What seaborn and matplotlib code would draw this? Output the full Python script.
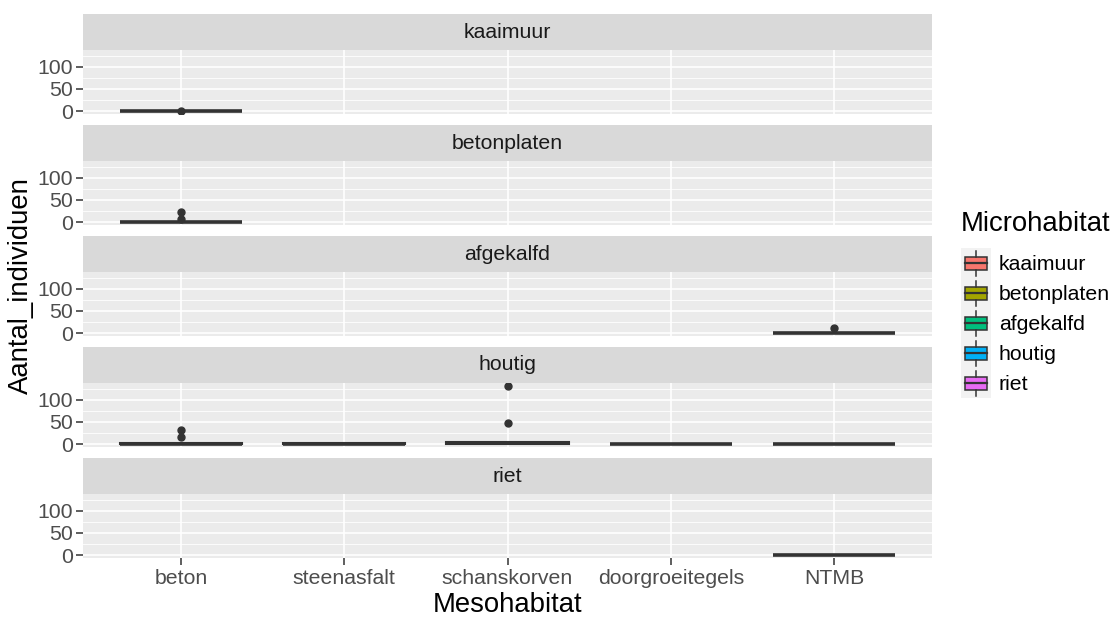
import matplotlib
matplotlib.use("Agg")
import matplotlib.pyplot as plt
import seaborn as sns
import pandas as pd
import numpy as np
from matplotlib.patches import Rectangle, Patch
from matplotlib.lines import Line2D
from matplotlib.legend_handler import HandlerBase

# ---------------- data ----------------
microhabitats = ["kaaimuur", "betonplaten", "afgekalfd", "houtig", "riet"]
mesohabitats = ["beton", "steenasfalt", "schanskorven", "doorgroeitegels", "NTMB"]
micro_colors = ["#F8766D", "#A3A500", "#00BF7D", "#00B0F6", "#E76BF3"]

kaaimuur_beton = [0, 0, 0, 0, 0, 0, 0, 0, 0, 1]
betonplaten_beton = [0, 0, 0, 0, 0, 0, 0, 0, 0, 0, 7, 23]
afgekalfd_NTMB = [0, 0, 0, 0, 0, 0, 0, 0, 12]
houtig_beton = [0, 0, 0, 0, 0, 0, 0, 0, 1, 2, 3, 4, 5, 17, 31]
houtig_steenasfalt = [0, 0, 0, 0, 1, 1, 2, 2, 3]
houtig_schanskorven = [0, 0, 0, 0, 0, 1, 2, 3, 4, 5, 6, 7, 47, 131]
houtig_doorgroeitegels = [0, 0, 0, 0, 1, 1, 2, 2]
houtig_NTMB = [0, 0, 0, 0, 0, 0, 0]
riet_NTMB = [0, 0, 0, 0, 0, 0, 0]

groups = [
    ("kaaimuur", "beton", kaaimuur_beton),
    ("betonplaten", "beton", betonplaten_beton),
    ("afgekalfd", "NTMB", afgekalfd_NTMB),
    ("houtig", "beton", houtig_beton),
    ("houtig", "steenasfalt", houtig_steenasfalt),
    ("houtig", "schanskorven", houtig_schanskorven),
    ("houtig", "doorgroeitegels", houtig_doorgroeitegels),
    ("houtig", "NTMB", houtig_NTMB),
    ("riet", "NTMB", riet_NTMB),
]

rows = []
for mi, me, vals in groups:
    for v in vals:
        rows.append({"Microhabitat": mi, "Mesohabitat": me, "Aantal_individuen": v})
df = pd.DataFrame(rows)

# ---------------- style ----------------
FONT = ["Liberation Sans", "DejaVu Sans"]
plt.rcParams["font.family"] = FONT
SMALL = 15.3
BIG = 19.8
TICK_C = "#4D4D4D"
LINE_C = "#333333"
PANEL_BG = "#EBEBEB"
STRIP_BG = "#D9D9D9"

W, H = 1118, 617
fig = plt.figure(figsize=(W / 100, H / 100), dpi=100)

vmin = df["Aantal_individuen"].min()
vmax = df["Aantal_individuen"].max()
rng = vmax - vmin
ylo, yhi = vmin - 0.05 * rng, vmax + 0.05 * rng

left_px, right_px = 83, 932
pw = right_px - left_px

axes = []
for i, (mi, col) in enumerate(zip(microhabitats, micro_colors)):
    strip_top = 14 + 111 * i
    strip_bot = 50 + 111 * i
    panel_bot = 114 + 111 * i
    ax = fig.add_axes([left_px / W, 1 - panel_bot / H, pw / W, (panel_bot - strip_bot) / H])
    sax = fig.add_axes([left_px / W, 1 - strip_bot / H, pw / W, (strip_bot - strip_top) / H])
    sax.set_facecolor(STRIP_BG)
    sax.set_xticks([]); sax.set_yticks([])
    for s in sax.spines.values():
        s.set_visible(False)
    sax.text(0.5, 0.5, mi, ha="center", va="center", fontsize=SMALL, color="#1A1A1A",
             transform=sax.transAxes)

    ax.set_facecolor(PANEL_BG)
    ax.set_axisbelow(True)
    sub = df[df["Microhabitat"] == mi]
    sns.boxplot(data=sub, x="Mesohabitat", y="Aantal_individuen", order=mesohabitats,
                color=col, saturation=1, width=0.75, linewidth=1.5, linecolor=LINE_C,
                showcaps=False, fliersize=5,
                flierprops=dict(marker="o", markerfacecolor=LINE_C, markeredgecolor=LINE_C),
                medianprops=dict(linewidth=2.6, color=LINE_C),
                ax=ax)
    ax.set_xlim(-0.6, len(mesohabitats) - 1 + 0.6)
    ax.set_ylim(ylo, yhi)
    ax.set_yticks([0, 50, 100])
    ax.set_yticks([25, 75, 125], minor=True)
    ax.set_xticks(range(len(mesohabitats)))
    ax.grid(which="major", color="white", linewidth=1.2)
    ax.grid(which="minor", axis="y", color="white", linewidth=0.6)
    ax.tick_params(axis="y", which="major", length=5, width=1.1, color=LINE_C,
                   labelsize=SMALL, labelcolor=TICK_C, pad=2)
    ax.tick_params(axis="y", which="minor", length=0)
    for s in ax.spines.values():
        s.set_visible(False)
    ax.set_ylabel("")
    ax.set_xlabel("")
    if i < len(microhabitats) - 1:
        ax.tick_params(axis="x", length=0, labelbottom=False)
    else:
        ax.set_xticklabels(mesohabitats)
        ax.tick_params(axis="x", length=5, width=1.1, color=LINE_C,
                       labelsize=SMALL, labelcolor=TICK_C, pad=3)
    axes.append(ax)

fig.text((left_px + pw / 2) / W, 1 - 605 / H, "Mesohabitat", ha="center", va="center",
         fontsize=BIG, color="black")
fig.text(21 / W, 1 - 286 / H, "Aantal_individuen", ha="center", va="center",
         rotation=90, fontsize=BIG, color="black")


# ---------------- legend ----------------
class BoxHandler(HandlerBase):
    def create_artists(self, legend, orig_handle, xdescent, ydescent, width, height,
                       fontsize, trans):
        x0, y0 = -xdescent, -ydescent
        color = orig_handle.get_facecolor()
        bg = Rectangle((x0, y0), width, height, facecolor="#F2F2F2", edgecolor="none",
                       transform=trans)
        bw, bh = width * 0.76, height * 0.44
        bx, by = x0 + (width - bw) / 2, y0 + (height - bh) / 2
        box = Rectangle((bx, by), bw, bh, facecolor=color, edgecolor=LINE_C, lw=1.1,
                        transform=trans)
        cx = x0 + width / 2
        w1 = Line2D([cx, cx], [y0 + height * 0.08, by], color=LINE_C, lw=1.1, transform=trans)
        w2 = Line2D([cx, cx], [by + bh, y0 + height * 0.92], color=LINE_C, lw=1.1,
                    transform=trans)
        med = Line2D([bx, bx + bw], [y0 + height / 2] * 2, color=LINE_C, lw=1.6,
                     transform=trans)
        return [bg, box, w1, w2, med]


handles = [Patch(facecolor=c) for c in micro_colors]
key_pt = 30 * 72 / 100          # 30 px key in points
hh = (key_pt / SMALL - 0.245) / 0.65
leg = fig.legend(handles, microhabitats, title="Microhabitat",
                 loc="upper left", bbox_to_anchor=(961 / W, 1 - 211 / H),
                 frameon=False, fontsize=SMALL, title_fontsize=BIG,
                 handler_map={Patch: BoxHandler()},
                 handlelength=key_pt / SMALL, handleheight=hh,
                 labelspacing=0, handletextpad=8 * 0.72 / SMALL, borderpad=0,
                 borderaxespad=0, alignment="left")
try:
    leg._legend_box.sep = 8
except Exception:
    pass
for t in leg.get_texts():
    t.set_color("black")

fig.savefig("out.png", dpi=100)
